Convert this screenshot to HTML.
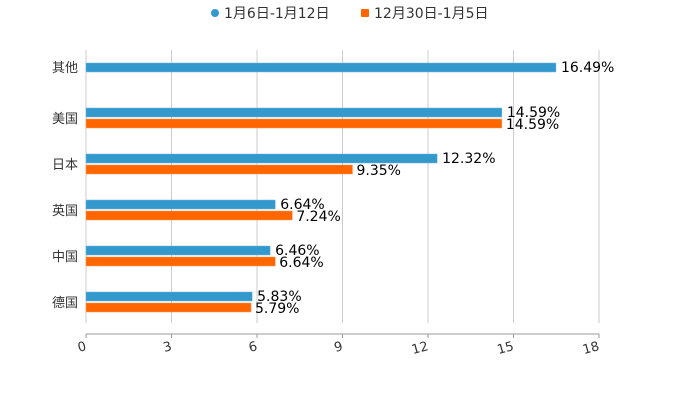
<!DOCTYPE html>
<html><head><meta charset="utf-8"><style>
body{margin:0;background:#fff;}
svg{display:block;font-family:"DejaVu Sans","Noto Sans CJK SC",sans-serif;}
</style></head><body>
<svg id="c" width="700" height="400">
<g>
<g><circle cx="215" cy="13" r="4" fill="#3399cc"/><text x="224" y="18" font-size="14" fill="#333">1月6日-1月12日</text></g>
<g><rect x="361" y="9" width="8" height="8" rx="1" fill="#ff6600"/><text x="374" y="18" font-size="14" fill="#333">12月30日-1月5日</text></g>
</g>
<g id="grid"></g><g id="bars"></g><g id="axis"></g>
</svg>
<script>
const categories=["其他","美国","日本","英国","中国","德国"];
const seriesA=[16.49,14.59,12.32,6.64,6.46,5.83];
const seriesB=[null,14.59,9.35,7.24,6.64,5.79];
const ticks=[0,3,6,9,12,15,18];
const NS="http://www.w3.org/2000/svg";
const x0=86,x1=599,xmax=18;
const X=v=>x0+(x1-x0)*v/xmax;
const yTop=50,band=46;
function el(t,a,p){const e=document.createElementNS(NS,t);for(const k in a)e.setAttribute(k,a[k]);p.appendChild(e);return e;}
const grid=document.getElementById('grid'),bars=document.getElementById('bars'),axis=document.getElementById('axis');
ticks.forEach(t=>{
 const g=el('line',{x1:X(t),x2:X(t),y1:50,y2:323,stroke:'#ccc','stroke-width':1},grid);
 
 
 el('line',{x1:X(t),x2:X(t),y1:334,y2:338,stroke:'#999'},axis);
 const l=el('text',{x:X(t),y:350,'font-size':13,fill:'#333','text-anchor':'end',transform:`rotate(-15 ${X(t)} 346)`},axis);
 l.textContent=t;
 
 
});
const ax=el('line',{x1:x0,x2:x1,y1:334,y2:334,stroke:'#999'},axis);


categories.forEach((c,i)=>{
 const single=(seriesB[i]===null);
 const cy=yTop+band*i+22;
 const lab=el('text',{x:78,y:(single?cy-5:cy)+5,'font-size':13,fill:'#333','text-anchor':'end'},axis);
 lab.textContent=c;
 
 
 const a=seriesA[i],b=seriesB[i];
 const ya=single?cy-9:cy-10;
 const r=el('rect',{x:x0,y:ya,width:X(a)-x0,height:9,fill:'#3399cc',stroke:'#6bb7e0','stroke-width':0.5},bars);
 
 
 const t=el('text',{x:X(a)+5,y:ya+9,'font-size':14,fill:'#000'},bars);
 t.textContent=a.toFixed(2)+'%';
 
 
 if(!single){
  const yb=cy+1;
  const r2=el('rect',{x:x0,y:yb,width:X(b)-x0,height:9,fill:'#ff6600',stroke:'#ff9955','stroke-width':0.5},bars);
  
  
  const t2=el('text',{x:X(b)+4,y:yb+10,'font-size':14,fill:'#000'},bars);
  t2.textContent=b.toFixed(2)+'%';
  
  
 }
});
</script>
</body></html>
